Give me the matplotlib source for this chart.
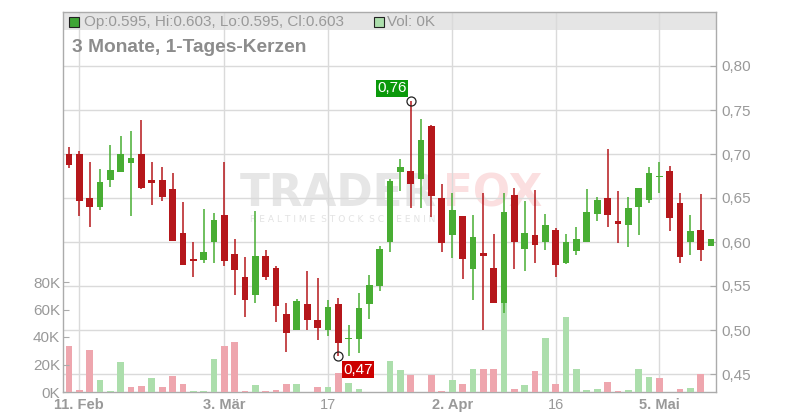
import numpy as np
import pandas as pd
import matplotlib
matplotlib.use('Agg')
import matplotlib.pyplot as plt
from matplotlib.patches import Rectangle
from matplotlib.ticker import FuncFormatter

plt.rcParams['font.family'] = ['Liberation Sans', 'DejaVu Sans']

# trading days (Xetra calendar, holidays removed)
HOLIDAYS = ['2025-04-18', '2025-04-21', '2025-05-01']
DATES = pd.bdate_range('2025-02-10', '2025-05-12').drop(pd.to_datetime(HOLIDAYS))

OPEN = [0.700, 0.700, 0.650, 0.640, 0.670, 0.680, 0.690, 0.700, 0.6705, 0.6705,
        0.660, 0.610, 0.581, 0.580, 0.600, 0.6307, 0.5864, 0.560, 0.5395, 0.5845,
        0.5708, 0.518, 0.4995, 0.530, 0.511, 0.4995, 0.530, 0.4895, 0.4895, 0.529,
        0.550, 0.6004, 0.680, 0.6807, 0.6712, 0.7318, 0.650, 0.6083, 0.6299, 0.5697,
        0.5879, 0.5705, 0.5303, 0.6534, 0.592, 0.6076, 0.600, 0.6134, 0.5767, 0.5897,
        0.600, 0.6321, 0.650, 0.6237, 0.6195, 0.640, 0.648, 0.6738, 0.681, 0.6443,
        0.600, 0.6141, 0.595]
HIGH = [0.708, 0.7034, 0.691, 0.683, 0.710, 0.720, 0.726, 0.7386, 0.691, 0.6852,
        0.678, 0.6458, 0.600, 0.6379, 0.633, 0.691, 0.6034, 0.5833, 0.6356, 0.591,
        0.573, 0.5307, 0.5348, 0.5665, 0.5587, 0.5345, 0.5367, 0.5052, 0.5426, 0.562,
        0.5955, 0.6712, 0.694, 0.760, 0.7394, 0.733, 0.666, 0.6557, 0.6299, 0.631,
        0.6553, 0.6091, 0.6553, 0.6615, 0.647, 0.6592, 0.6317, 0.616, 0.6088, 0.6168,
        0.660, 0.6515, 0.7061, 0.658, 0.6511, 0.6615, 0.6855, 0.6912, 0.6866, 0.6557,
        0.631, 0.654, 0.603]
LOW = [0.6845, 0.630, 0.617, 0.636, 0.663, 0.680, 0.630, 0.6597, 0.6424, 0.647,
       0.6015, 0.574, 0.5606, 0.5765, 0.5765, 0.573, 0.540, 0.5145, 0.5305, 0.5565,
       0.509, 0.4754, 0.4995, 0.4995, 0.489, 0.4935, 0.470, 0.471, 0.4737, 0.512,
       0.5447, 0.5886, 0.6583, 0.639, 0.639, 0.6288, 0.5886, 0.5822, 0.5583, 0.5345,
       0.500, 0.5311, 0.5197, 0.569, 0.567, 0.5767, 0.5905, 0.560, 0.5752, 0.5851,
       0.600, 0.624, 0.6172, 0.5989, 0.5943, 0.6084, 0.6447, 0.656, 0.6126, 0.576,
       0.585, 0.578, 0.595]
CLOSE = [0.687, 0.647, 0.640, 0.668, 0.682, 0.700, 0.6955, 0.6617, 0.6674, 0.6515,
         0.6015, 0.5743, 0.5788, 0.5886, 0.625, 0.5788, 0.5686, 0.534, 0.5845, 0.560,
         0.527, 0.497, 0.5335, 0.511, 0.502, 0.5267, 0.485, 0.491, 0.5255, 0.5517,
         0.592, 0.6693, 0.6852, 0.6663, 0.7159, 0.6527, 0.5992, 0.6364, 0.5811, 0.6057,
         0.5845, 0.5311, 0.6345, 0.600, 0.6099, 0.5962, 0.619, 0.5733, 0.600, 0.6031,
         0.634, 0.6477, 0.6309, 0.6206, 0.6386, 0.6615, 0.6786, 0.675, 0.6275, 0.5828,
         0.613, 0.5911, 0.603]
VOLUME = [33800, 1700, 30200, 8800, 1000, 21700, 3300, 4500, 10200, 3300,
          11700, 6000, 1000, 1000, 23800, 33800, 36700, 1000, 5200, 1000,
          1700, 6000, 6000, 0, 3800, 3800, 13600, 6700, 2400, 0,
          0, 22400, 16000, 12100, 0, 12100, 1000, 8800, 6000, 16700,
          16700, 16700, 72000, 2400, 5200, 15200, 39500, 6000, 54500, 16700,
          1700, 2400, 7400, 1000, 1700, 16700, 11000, 10200, 0, 2400,
          3100, 13100, 0]

TICK_DATES = ['2025-02-11', '2025-03-03', '2025-03-17', '2025-04-02', '2025-04-16', '2025-05-05']
TICK_LABELS = ['11. Feb', '3. Mär', '17', '2. Apr', '16', '5. Mai']
PRICE_TICKS = [0.45, 0.50, 0.55, 0.60, 0.65, 0.70, 0.75, 0.80]
VOLUME_TICKS = [0, 20000, 40000, 60000, 80000]

TITLE = '3 Monate, 1-Tages-Kerzen'

UP = '#48ad33'
DOWN = '#b5171b'
VOL_UP = '#acdeac'
VOL_DOWN = '#eea6ae'
GRID = '#dadada'
AXIS = '#ababab'
TEXT = '#999999'

W, H = 800, 420
L, R, B, T = 63, 716, 392, 12


def fx(px):
    return px / W


def fy(py):
    return 1 - py / H


o = np.array(OPEN)
h = np.array(HIGH)
lo = np.array(LOW)
c = np.array(CLOSE)
v = np.array(VOLUME)
x = np.arange(len(DATES))

candle_up = c >= o
prev_close = np.concatenate([[o[0]], c[:-1]])
vol_up = c >= prev_close

fig = plt.figure(figsize=(W / 100, H / 100), dpi=100)
ax = fig.add_axes([fx(L), fy(B), fx(R - L), (B - T) / H])
axv = ax.twinx()
axc = ax.twinx()

xlim = (-0.574, 62.47)
ylim = (0.80 - (B - 66) / 880, 0.80 + (66 - T) / 880)
for a in (ax, axv, axc):
    a.set_xlim(*xlim)
ax.set_ylim(*ylim)
axc.set_ylim(*ylim)
axv.set_ylim(0, (B - T) / 1.375 * 1000)

# grid + header on the bottom axes
tick_pos = [DATES.get_loc(pd.Timestamp(d)) for d in TICK_DATES]
ax.set_xticks(tick_pos)
ax.set_xticklabels(TICK_LABELS)
for lab in ax.get_xticklabels():
    if '.' in lab.get_text():
        lab.set_fontweight('bold')
ax.tick_params(axis='x', length=0, pad=4, labelsize=10.5, labelcolor=TEXT)
ax.yaxis.tick_right()
ax.set_yticks(PRICE_TICKS)
ax.yaxis.set_major_formatter(FuncFormatter(lambda p, _: f'{p:.2f}'.replace('.', ',')))
ax.tick_params(axis='y', direction='in', length=4, width=0.8, color=AXIS,
               pad=4, labelsize=11, labelcolor=TEXT)
ax.grid(True, color=GRID, linewidth=1.0)
ax.set_axisbelow(True)
for s in ax.spines.values():
    s.set_color(AXIS)
    s.set_linewidth(1.0)

hdr_h = 18 / (B - T)
ax.add_patch(Rectangle((0, 1 - hdr_h), 1, hdr_h, transform=ax.transAxes,
                       facecolor='#e5e5e5', edgecolor='none', zorder=0.1))

# watermark
ax.text(fx(240), fy(206.5), 'TRADER', transform=fig.transFigure, fontsize=31.5,
        family='DejaVu Sans', fontweight='bold', color='#e6e6e6', ha='left',
        va='baseline', zorder=0.2)
ax.text(fx(443), fy(206.5), 'FOX', transform=fig.transFigure, fontsize=31.5,
        family='DejaVu Sans', fontweight='bold', color='#fbdfe0', ha='left',
        va='baseline', zorder=0.2)
ax.text(fx(250), fy(221.5), '  '.join(' '.join(w) for w in 'REALTIME STOCK SCREENING'.split()),
        transform=fig.transFigure, fontsize=6.6, family='DejaVu Sans', color='#e3e3e3',
        ha='left', va='baseline', zorder=0.2)

# volume bars
axv.bar(x, v, width=0.65, color=np.where(vol_up, VOL_UP, VOL_DOWN), linewidth=0)
axv.yaxis.tick_left()
axv.set_yticks(VOLUME_TICKS)
axv.yaxis.set_major_formatter(FuncFormatter(lambda q, _: f'{int(q / 1000)}K'))
axv.tick_params(axis='y', direction='in', length=4, width=0.8, color=AXIS,
                pad=2, labelsize=11, labelcolor=TEXT)
for s in axv.spines.values():
    s.set_visible(False)

# candles
colors = np.where(candle_up, UP, DOWN)
axc.vlines(x, lo, h, colors=colors, linewidth=1.1)
body = np.maximum(np.abs(c - o), 0.0015)
axc.bar(x, body, bottom=np.minimum(o, c), width=0.65, color=colors, linewidth=0)
axc.axis('off')

hi_i = int(np.argmax(h))
lo_i = int(np.argmin(lo))
axc.plot([hi_i, lo_i], [h[hi_i], lo[lo_i]], 'o', mfc='none', mec='#222222',
         ms=6.5, mew=0.9)
axc.annotate(f'{h[hi_i]:.2f}'.replace('.', ','), xy=(hi_i, h[hi_i]),
             xytext=(-3, 4.2), textcoords='offset points', ha='right', va='bottom',
             fontsize=11, color='white',
             bbox=dict(boxstyle='square,pad=0.1', fc='#0a990a', ec='none'))
axc.annotate(f'{lo[lo_i]:.2f}'.replace('.', ','), xy=(lo_i, lo[lo_i]),
             xytext=(3.5, -4.7), textcoords='offset points', ha='left', va='top',
             fontsize=11, color='white',
             bbox=dict(boxstyle='square,pad=0.1', fc='#cc0000', ec='none'))

# header line + title
fig.patches.append(Rectangle((fx(68.5), fy(27)), 10 / W, 10 / H, transform=fig.transFigure,
                             facecolor='#3fa535', edgecolor='#222222', linewidth=0.8))
fig.text(fx(84), fy(22), f'Op:{o[-1]:.3f}, Hi:{h[-1]:.3f}, Lo:{lo[-1]:.3f}, Cl:{c[-1]:.3f}',
         fontsize=11, color=TEXT, va='center', ha='left')
fig.patches.append(Rectangle((fx(374), fy(27)), 10 / W, 10 / H, transform=fig.transFigure,
                             facecolor=VOL_UP, edgecolor='#222222', linewidth=0.8))
fig.text(fx(387), fy(22), f'Vol: {int(v[-1] / 1000)}K', fontsize=11, color=TEXT,
         va='center', ha='left')
fig.text(fx(72), fy(48), TITLE, fontsize=13.8, fontweight='bold', color='#8c8c8c',
         va='center', ha='left')

fig.savefig('out.png', dpi=100)
